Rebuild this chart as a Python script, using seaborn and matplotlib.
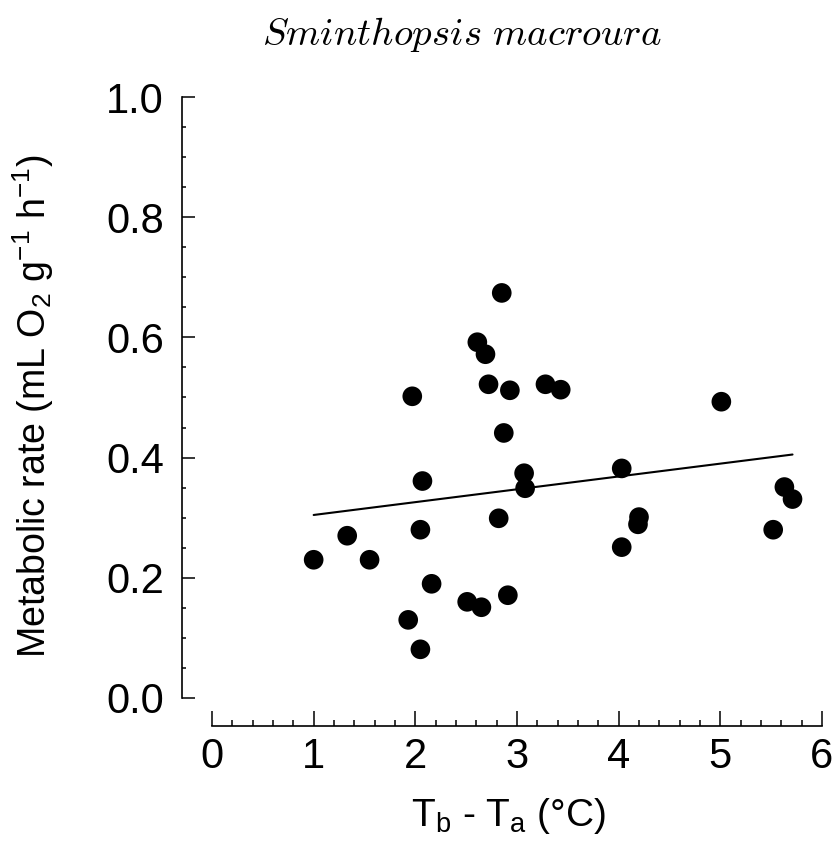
import numpy as np
import pandas as pd
import matplotlib
matplotlib.use("Agg")
import matplotlib.pyplot as plt
from matplotlib.ticker import FixedLocator
import seaborn as sns

# ---- data ----
tb_ta = [1.00, 1.33, 1.55, 1.93, 1.97, 2.05, 2.05, 2.07, 2.16, 2.51, 2.65,
         2.91, 2.82, 2.61, 2.69, 2.72, 2.85, 2.87, 2.93, 3.07, 3.08, 3.28,
         3.43, 4.03, 4.03, 4.19, 4.20, 5.01, 5.52, 5.63, 5.71]
metab = [0.230, 0.270, 0.230, 0.130, 0.502, 0.081, 0.280, 0.361, 0.190,
         0.160, 0.151, 0.171, 0.299, 0.592, 0.572, 0.522, 0.674, 0.441,
         0.512, 0.374, 0.349, 0.522, 0.513, 0.382, 0.251, 0.289, 0.301,
         0.493, 0.280, 0.351, 0.331]
x_ticks = [0, 1, 2, 3, 4, 5, 6]
y_ticks = [0.0, 0.2, 0.4, 0.6, 0.8, 1.0]
x_minor = [i / 5 for i in range(0, 31)]
y_minor = [i / 20 for i in range(0, 21)]

df = pd.DataFrame({"x": tb_ta, "y": metab})

sns.set_style("ticks")
plt.rcParams["font.family"] = ["Liberation Sans", "DejaVu Sans"]
plt.rcParams["mathtext.fontset"] = "custom"
plt.rcParams["mathtext.rm"] = "Liberation Sans"
plt.rcParams["mathtext.it"] = "Liberation Sans:italic"
plt.rcParams["mathtext.bf"] = "Liberation Sans:bold"
for k in ("text.color", "axes.labelcolor", "xtick.color", "ytick.color",
          "axes.edgecolor"):
    plt.rcParams[k] = "black"

W, H = 837, 857
fig = plt.figure(figsize=(W / 100, H / 100), dpi=100)
ax = fig.add_axes([182 / W, (H - 726) / H, 640 / W, (726 - 97) / H])

sns.scatterplot(data=df, x="x", y="y", ax=ax, s=200, color="black",
                edgecolor="none", linewidth=0, zorder=3, clip_on=False)
sns.regplot(data=df, x="x", y="y", ax=ax, scatter=False, ci=None,
            truncate=True, line_kws=dict(color="black", lw=1.5))

ax.set_xlim(-0.295, 6.0)
ax.set_ylim(-0.0466, 1.0)
ax.spines["top"].set_visible(False)
ax.spines["right"].set_visible(False)
for s in ("left", "bottom"):
    ax.spines[s].set_linewidth(1.2)
    ax.spines[s].set_color("black")
ax.spines["left"].set_bounds(0, 1.0)
ax.spines["bottom"].set_bounds(0, 6)

ax.set_xticks(x_ticks)
ax.set_xticklabels([str(v) for v in x_ticks])
ax.set_yticks(y_ticks)
ax.set_yticklabels([f"{v:.1f}" for v in y_ticks])
ax.xaxis.set_minor_locator(FixedLocator(x_minor))
ax.yaxis.set_minor_locator(FixedLocator(y_minor))
ax.tick_params(axis="x", which="major", direction="in", length=11, width=1.1,
               labelsize=30, pad=8, color="black", labelcolor="black")
ax.tick_params(axis="x", which="minor", direction="in", length=4.5, width=1.1,
               color="black")
ax.tick_params(axis="y", which="major", direction="in", length=9.5, width=1.1,
               labelsize=30, pad=13, color="black", labelcolor="black")
ax.tick_params(axis="y", which="minor", direction="in", length=3.2, width=1.1,
               color="black")
for t in ax.get_xticklines() + ax.get_yticklines():
    t.set_clip_on(False)

ax.set_xlabel(r"T$_\mathrm{b}$ - T$_\mathrm{a}$ (°C)", fontsize=28)
ax.xaxis.set_label_coords(0.51, -0.112)
ax.set_ylabel("")
fig.text(33 / W, 1 - 406 / H,
         r"Metabolic rate (mL O$_\mathrm{2}$ g$^\mathrm{-1}$ h$^\mathrm{-1}$)",
         fontsize=27, rotation=90, ha="center", va="center")

fig.text(462 / W, 1 - 35 / H, r"$Sminthopsis\ macroura$", fontsize=28,
         ha="center", va="center", math_fontfamily="cm")

fig.savefig("out.png", dpi=100, facecolor="white")
